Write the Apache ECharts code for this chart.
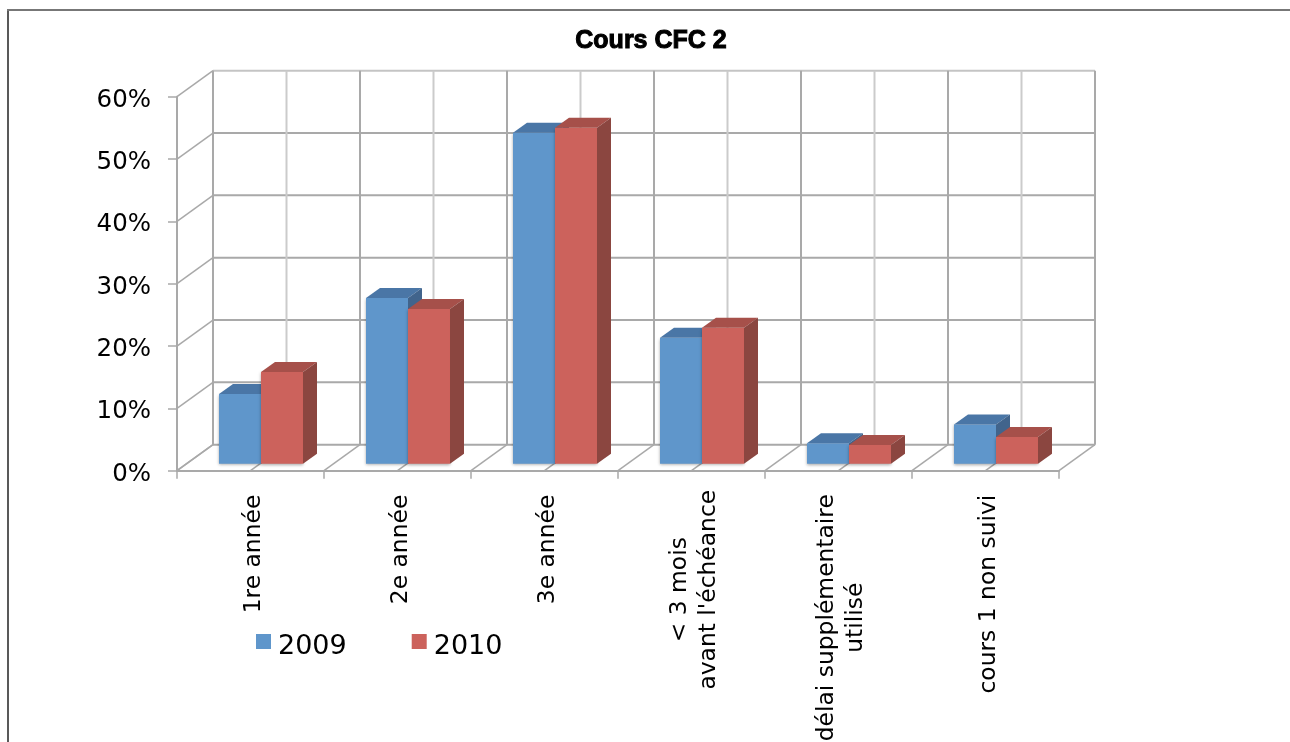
<!DOCTYPE html>
<html><head><meta charset="utf-8">
<style>html,body{margin:0;padding:0;background:#fff;overflow:hidden}#c{width:1290px;height:742px}</style>
<script src="https://cdn.jsdelivr.net/npm/echarts@6/dist/echarts.min.js"></script>
</head><body><div id="c"></div>
<script>
var categories = ['1re année','2e année','3e année','< 3 mois\navant l\'échéance','délai supplémentaire\nutilisé','cours 1 non suivi'];
var seriesNames = ['2009','2010'];
var values2009 = [0.112,0.266,0.531,0.202,0.033,0.063];
var values2010 = [0.147,0.248,0.539,0.218,0.030,0.043];
var yTicks = [0,0.1,0.2,0.3,0.4,0.5,0.6];
var halfSteps = [0,1,2,3,4,5,6,7,8,9,10,11,12];

var DX = 36, DY = 26, FONT = '"DejaVu Sans"', GRID = '#a9a9a9', GRID2 = '#cbcbcb';
function line(x1,y1,x2,y2,c,w){return {type:'line',shape:{x1:x1,y1:y1,x2:x2,y2:y2},style:{stroke:c,lineWidth:w}};}

function wallH(params, api){
  var y = api.value(1), p = api.coord([0,y]), band = api.size([1,0])[0];
  var x0 = p[0]-band/2, x1 = x0+band*6, yy = p[1];
  return {type:'group',children:[
    line(x0+DX,yy-DY,x1+DX,yy-DY, y===0.6?'#c4c4c4':GRID, 2),
    line(x0,yy,x0+DX,yy-DY,'#a9a9a9',1.5)
  ]};
}
function wallV(params, api){
  var k = api.value(0), p = api.coord([0,0]), top = api.coord([0,0.6]), band = api.size([1,0])[0];
  var x = p[0]-band/2+k*band/2;
  var minor = k%2===1;
  return {type:'group',children:[
    line(x+DX,p[1]-DY,x+DX,top[1]-DY, k===0||k===12?GRID:(minor?GRID2:GRID), 2),
    line(x,p[1],x+DX,p[1]-DY,'#a9a9a9',1.5)
  ]};
}
function barRender(side, front, topC, sideC){
  return function(params, api){
    var i = api.value(0), v = api.value(1), band = api.size([1,0])[0];
    var w = band*0.2857, sh = 10.5, up = 7, dx = 14, dy = 10;
    var c = api.coord([i,v]), b = api.coord([i,0]);
    var x0 = c[0]+sh+(side===0?-w:0), x1 = x0+w, yT = c[1]-up, yB = b[1]-up;
    return {type:'group',children:[
      {type:'rect',shape:{x:x0,y:yT,width:w,height:yB-yT},style:{fill:front,shadowBlur:3,shadowColor:'rgba(0,0,0,0.35)',shadowOffsetY:1}},
      {type:'polygon',shape:{points:[[x0,yT],[x1,yT],[x1+dx,yT-dy],[x0+dx,yT-dy]]},style:{fill:topC}},
      {type:'polygon',shape:{points:[[x1,yT],[x1+dx,yT-dy],[x1+dx,yB-dy],[x1,yB]]},style:{fill:sideC}}
    ]};
  };
}
function pairs(vals){return vals.map(function(v,i){return [i,v];});}

var chart = echarts.init(document.getElementById('c'),null,{renderer:'canvas'});
chart.setOption({
  animation:false,
  backgroundColor:'#fff',
  title:{text:'Cours CFC 2',left:646,top:24,textAlign:'center',
    textStyle:{fontFamily:'"Liberation Sans"',fontWeight:'bold',fontSize:25,color:'#000',textBorderColor:'#000',textBorderWidth:1}},
  legend:{data:seriesNames,left:251,top:628,icon:'rect',itemWidth:15,itemHeight:15,itemGap:65,
    formatter:function(n){return '{t|'+n+'}';},
    textStyle:{fontFamily:FONT,fontSize:27,color:'#000',
      rich:{t:{fontFamily:FONT,fontSize:27,color:'#000',padding:[10,0,0,2]}}}},
  grid:{left:177,top:96.7,width:882,height:374,outerBoundsMode:'none',containLabel:false},
  xAxis:{type:'category',data:categories,
    axisLine:{lineStyle:{color:'#a9a9a9',width:2}},
    axisTick:{show:true,length:8,alignWithLabel:false,lineStyle:{color:'#a9a9a9',width:1.5}},
    axisLabel:{interval:0,rotate:90,margin:24,hideOverlap:false,color:'#000',fontFamily:FONT,fontSize:23.4,lineHeight:29,padding:[6,0,0,0],
      formatter:function(s){
        if(s.indexOf('avant')>=0) return s.split('\n').map(function(t){return '{a|'+t+'}';}).join('\n');
        if(s.indexOf('délai')>=0) return s.split('\n').map(function(t){return '{b|'+t+'}';}).join('\n');
        return s;
      },
      rich:{
        a:{width:190,align:'center',fontFamily:FONT,fontSize:23.4,lineHeight:29,color:'#000'},
        b:{width:246,align:'center',fontFamily:FONT,fontSize:23.4,lineHeight:29,color:'#000'}
      }},
    splitLine:{show:false}},
  yAxis:{type:'value',min:0,max:0.6,interval:0.1,
    axisLine:{show:true,lineStyle:{color:'#a9a9a9',width:2}},
    axisTick:{show:true,length:9,lineStyle:{color:'#a9a9a9',width:1.5}},
    axisLabel:{margin:26,color:'#000',fontFamily:FONT,fontSize:24.5,
      formatter:function(v){return '{t|'+Math.round(v*100)+'%}';},
      rich:{t:{fontFamily:FONT,fontSize:24.5,color:'#000',padding:[7,0,0,0]}}},
    splitLine:{show:false}},
  graphic:[
    {type:'polyline',silent:true,shape:{points:[[8,742],[8,10]]},style:{stroke:'#222',lineWidth:1.5,fill:null}},
    {type:'polyline',silent:true,shape:{points:[[7,10],[1290,10]]},style:{stroke:'#777',lineWidth:2,fill:null}}
  ],
  series:[
    {type:'custom',name:'wallH',silent:true,z:1,renderItem:wallH,data:yTicks.map(function(y){return [0,y];}),encode:{x:0,y:1}},
    {type:'custom',name:'wallV',silent:true,z:1,renderItem:wallV,data:halfSteps.map(function(k){return [k,0];}),encode:{y:1}},
    {type:'custom',name:'2009',z:3,itemStyle:{color:'#5f96cb'},renderItem:barRender(0,'#5f96cb','#4a76a6','#41648c'),data:pairs(values2009),encode:{x:0,y:1}},
    {type:'custom',name:'2010',z:4,itemStyle:{color:'#cc625c'},renderItem:barRender(1,'#cc625c','#a6504a','#8b4640'),data:pairs(values2010),encode:{x:0,y:1}}
  ]
});
</script></body></html>
